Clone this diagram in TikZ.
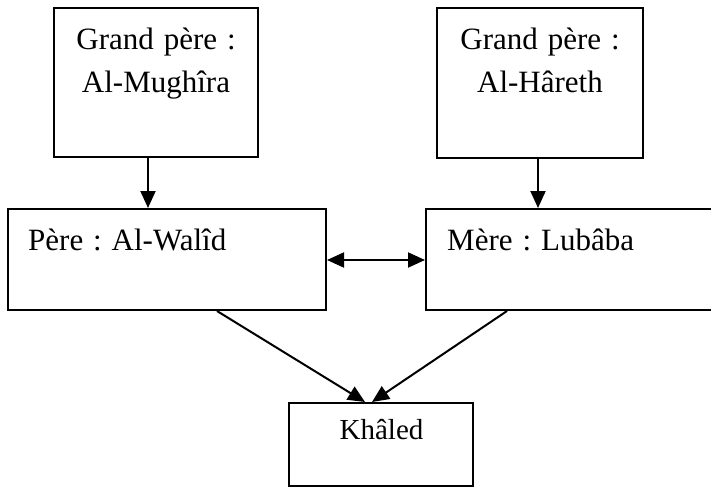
\documentclass[tikz,border=0pt]{standalone}
\usepackage{fontspec}
\setmainfont{Liberation Serif}
\usetikzlibrary{arrows.meta}
\frenchspacing
\newcommand\lblfont{\fontsize{31}{43}\selectfont\frenchspacing\spaceskip=0.32em\relax}
\begin{document}
\begin{tikzpicture}[x=1pt,y=-1pt,
  box/.style={draw=black,line width=2pt,rectangle,inner sep=0pt},
  lbl/.style={inner sep=0pt,font=\lblfont},
  tip/.tip={Triangle[length=17pt,width=15pt]},
  arr/.style={line width=2pt,-tip},
  darr/.style={line width=2pt,tip-tip}]
\useasboundingbox (0,0) rectangle (711,487);
\clip (0,0) rectangle (711,487);
% boxes
\node[box,minimum width=204pt,minimum height=149pt] (b1) at (156,82.5) {};
\node[box,minimum width=206pt,minimum height=150pt] (b2) at (540,83) {};
\node[box,minimum width=318pt,minimum height=101pt] (b3) at (167,259.5) {};
\node[box,minimum width=300pt,minimum height=101pt] (b4) at (576,259.5) {};
\node[box,minimum width=184pt,minimum height=83pt] (b5) at (381,444.5) {};
% texts
\node[lbl,align=center,anchor=north] (t1) at (156,27.5) {Grand père :\\Al-Mughîra};
\node[lbl,align=center,anchor=north] (t2) at (540,27.5) {Grand père :\\Al-Hâreth};
\node[lbl,anchor=base west] (t3) at (28,250) {Père : Al-Walîd};
\node[lbl,anchor=base west] (t4) at (447,250) {Mère : Lubâba};
\node[lbl,anchor=base,font=\fontsize{29}{34}\selectfont] (t5) at (381.5,439) {Khâled};
% connectors
\draw[arr] ([xshift=-8pt]b1.south) -- ([xshift=-8pt]b1.south |- b3.north);
\draw[arr] ([xshift=-2pt]b2.south) -- ([xshift=-2pt]b2.south |- b4.north);
\draw[darr] (b3.east |- 0,260) -- (b4.west |- 0,260);
\draw[arr] ([xshift=210pt]b3.south west) -- ([xshift=77pt]b5.north west);
\draw[arr] ([xshift=82pt]b4.south west) -- ([xshift=84pt]b5.north west);
\end{tikzpicture}
\end{document}
